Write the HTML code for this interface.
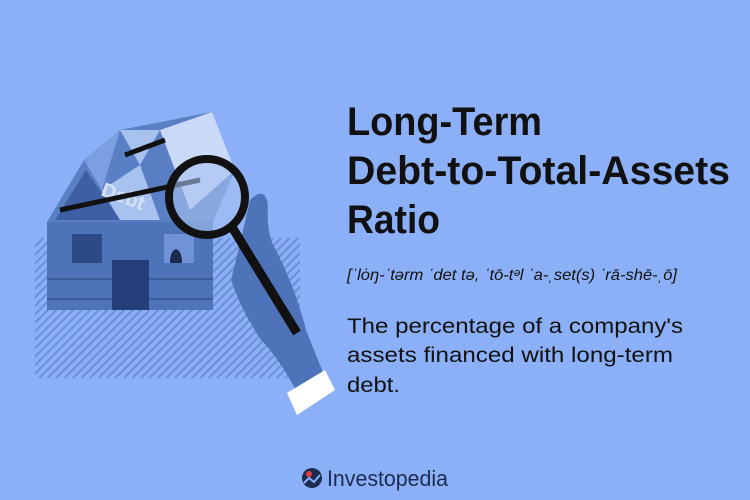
<!DOCTYPE html>
<html><head><meta charset="utf-8"><style>
html,body{margin:0;padding:0;background:#8bb0f7;}
svg{display:block}
</style></head><body>
<svg width="750" height="500" viewBox="0 0 750 500" font-family="Liberation Sans, sans-serif">
<rect width="750" height="500" fill="#8bb0f7"/>
<defs>
<pattern id="hatch" width="6" height="6" patternUnits="userSpaceOnUse" patternTransform="rotate(45)">
<rect width="2" height="6" fill="#6e8fd6"/>
</pattern>
</defs>
<g>
<rect x="35" y="238" width="265" height="140" fill="url(#hatch)"/>
<rect x="47" y="222" width="166" height="88" fill="#4f73b8"/>
<line x1="47" y1="279" x2="213" y2="279" stroke="#3a5a9a" stroke-width="2"/>
<line x1="47" y1="299" x2="213" y2="299" stroke="#3a5a9a" stroke-width="2"/>
<rect x="72" y="234" width="30" height="29" fill="#2d4a86"/>
<rect x="164" y="234" width="30" height="29" fill="#6f93d6"/>
<path d="M170 263 q0 -12 6 -14 q6 2 6 14z" fill="#1a2a50"/>
<rect x="112" y="260" width="37" height="50" fill="#233e78"/>
<polygon points="47,222 84,160 120,130 212,112 235,170 213,222" fill="#5a7fc5"/>
<polygon points="84,160 120,130 102,190" fill="#7b9fe2"/>
<polygon points="120,130 160,130 140,165" fill="#a8c2f0"/>
<polygon points="86,170 120,220 55,220" fill="#3f5fa5"/>
<polygon points="102,190 140,165 160,220 120,220" fill="#a8c2f0"/>
<polygon points="160,130 212,112 235,170 190,210" fill="#c9d9f7"/>
<text x="100" y="195" font-size="20" font-weight="bold" fill="#d6e2fa" transform="rotate(20 100 195)">Debt</text>
<line x1="60" y1="210" x2="200" y2="180" stroke="#111" stroke-width="5"/>
<line x1="125" y1="155" x2="165" y2="140" stroke="#111" stroke-width="5"/>
</g>
<g>
<path d="M250 200 q15 -15 18 5 q-2 30 8 45 q20 40 30 80 q8 20 20 50 l-25 20 q-20 -40 -40 -60 q-20 -30 -30 -60 q10 -40 19 -80z" fill="#4f73b8"/>
<polygon points="287,393 325,370 335,390 297,415" fill="#ffffff"/>
<circle cx="207" cy="197" r="38" fill="#a8c2f0" fill-opacity="0.6" stroke="#111" stroke-width="8"/>
<line x1="232" y1="227" x2="297" y2="333" stroke="#111" stroke-width="9"/>
</g>
<g font-weight="bold" fill="#111">
<text x="347" y="135" font-size="40" textLength="195" lengthAdjust="spacingAndGlyphs">Long-Term</text>
<text x="347" y="184" font-size="40" textLength="383" lengthAdjust="spacingAndGlyphs">Debt-to-Total-Assets</text>
<text x="347" y="233" font-size="40" textLength="93" lengthAdjust="spacingAndGlyphs">Ratio</text>
</g>
<text x="347" y="280" font-size="16" font-style="italic" fill="#111" textLength="330" lengthAdjust="spacingAndGlyphs">[ˈlȯŋ-ˈtərm ˈdet tə, ˈtō-tᵊl ˈa-ˌset(s) ˈrā-shē-ˌō]</text>
<g font-size="21" fill="#111">
<text x="347" y="333" textLength="336" lengthAdjust="spacingAndGlyphs">The percentage of a company's</text>
<text x="347" y="362" textLength="326" lengthAdjust="spacingAndGlyphs">assets financed with long-term</text>
<text x="347" y="392" textLength="53" lengthAdjust="spacingAndGlyphs">debt.</text>
</g>
<g>
<circle cx="312" cy="478" r="10" fill="#1d2b4f"/>
<circle cx="309" cy="474" r="3" fill="#e23a3a"/>
<path d="M304 483 l5 -5 l5 4 l6 -7" stroke="#8bb0f7" stroke-width="2" fill="none"/>
<text x="327" y="486" font-size="22" fill="#1d2b4f" textLength="121" lengthAdjust="spacingAndGlyphs">Investopedia</text>
</g>
</svg>
</body></html>
